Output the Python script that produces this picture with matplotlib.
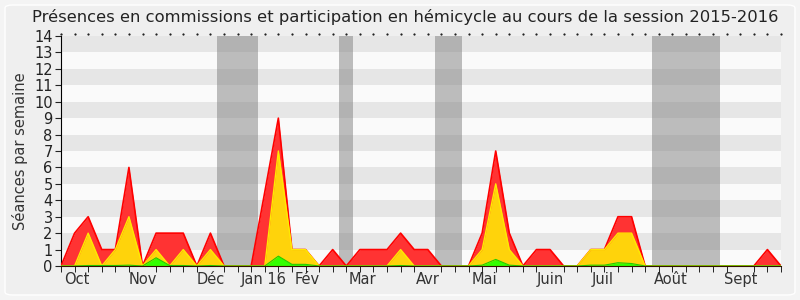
import matplotlib
matplotlib.use('Agg')
import matplotlib.pyplot as plt
from matplotlib.patches import FancyBboxPatch
import numpy as np

# weekly values (cumulative heights: total, commissions+hemicycle, hemicycle)
red_total = [0, 2, 3, 1, 1, 6, 0, 2, 2, 2, 0, 2, 0, 0, 0, 4.5, 9, 1, 1, 0,
             1, 0, 1, 1, 1, 2, 1, 1, 0, 0, 0, 2, 7, 2, 0, 1, 1, 0, 0, 1,
             1, 3, 3, 0, 0, 0, 0, 0, 0, 0, 0, 0, 1, 0]
yellow_vals = [0, 0, 2, 0, 1, 3, 0, 1, 0, 1, 0, 1, 0, 0, 0, 0, 7, 1, 1, 0,
               0, 0, 0, 0, 0, 1, 0, 0, 0, 0, 0, 1, 5, 1, 0, 0, 0, 0, 0, 1,
               1, 2, 2, 0, 0, 0, 0, 0, 0, 0, 0, 0, 0, 0]
green_vals = [0, 0, 0.03, 0.03, 0.03, 0.05, 0, 0.5, 0.03, 0.03, 0, 0.03, 0, 0, 0, 0, 0.6, 0.1, 0.1, 0,
              0, 0, 0, 0, 0, 0.03, 0, 0, 0, 0, 0, 0.05, 0.4, 0.05, 0, 0, 0, 0, 0, 0.05,
              0.05, 0.2, 0.15, 0, 0, 0, 0, 0, 0, 0, 0, 0, 0, 0]

# vacation periods (first week, last week)
vacations = [(12, 14), (21, 21), (28, 29), (44, 48)]

month_labels = ['Oct', 'Nov', 'Déc', 'Jan 16', 'Fév', 'Mar', 'Avr', 'Mai', 'Juin', 'Juil', 'Août', 'Sept']
month_pos = [1.15, 6.0, 11.0, 14.9, 18.1, 22.2, 27.0, 31.2, 36.0, 39.9, 44.9, 50.0]

weeks = np.arange(len(red_total))

fig = plt.figure(figsize=(8, 3), dpi=100, facecolor='#f4f4f4')
bg = FancyBboxPatch((5 / 800, 5 / 300), 790 / 800, 290 / 300,
                    boxstyle='round,pad=0,rounding_size=0.01',
                    transform=fig.transFigure, facecolor='#efefef',
                    edgecolor='white', lw=1, zorder=-10)
fig.patches.append(bg)

ax = fig.add_axes([61 / 800, 34 / 300, 720 / 800, 230 / 300])
ax.set_facecolor('#fafafa')
for k in range(1, 14, 2):
    ax.axhspan(k, k + 1, color='#e6e6e6', lw=0, zorder=0)
for a, b in vacations:
    ax.axvspan(a - 0.5, b + 0.5, color='#808080', alpha=0.5, lw=0, zorder=1)

ax.fill_between(weeks, 0, red_total, color='#ff3333', lw=0, zorder=2)
ax.plot(weeks, red_total, color='#ff0000', lw=1.2, zorder=3)
ax.fill_between(weeks, 0, yellow_vals, color='#ffd30b', lw=0, zorder=4)
ax.plot(weeks, yellow_vals, color='#ffea00', lw=1, zorder=5)
ax.fill_between(weeks, 0, green_vals, color='#33ff00', lw=0, zorder=6)
ax.plot(weeks, green_vals, color='#22cc00', lw=0.8, zorder=7)

ax.set_xlim(0, 53)
ax.set_ylim(0, 14)
ax.set_yticks(range(0, 15))
ax.tick_params(axis='y', length=4, labelsize=10.5, pad=2, colors='#222222')
ax.set_xticks(month_pos)
ax.set_xticklabels(month_labels)
ax.tick_params(axis='x', which='major', length=0, labelsize=10.5, pad=4, colors='#333333')
ax.set_xticks(weeks, minor=True)
ax.tick_params(axis='x', which='minor', length=4, direction='out')
for s in ['top', 'right']:
    ax.spines[s].set_visible(False)
ax.spines['left'].set_color('black')
ax.spines['bottom'].set_color('#331100')
ax.spines['bottom'].set_zorder(8)

# dotted top border
ax.plot(weeks, [14.1] * len(weeks), ls='none', marker='s', ms=0.6,
        color='#222222', clip_on=False)

ax.set_ylabel('Séances par semaine', fontsize=10.5, color='#333333', labelpad=4)
fig.text(0.506, 0.943, 'Présences en commissions et participation en hémicycle au cours de la session 2015-2016',
         ha='center', va='center', fontsize=11.8, color='#222222')

fig.savefig('out.png', dpi=100, facecolor=fig.get_facecolor())
